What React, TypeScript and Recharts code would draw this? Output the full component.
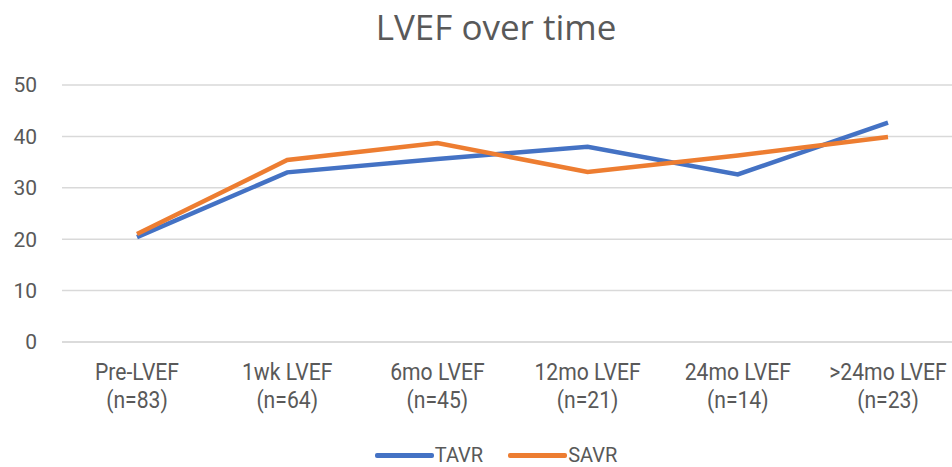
import React from 'react';
import { LineChart, Line, XAxis, YAxis, CartesianGrid } from 'recharts';

const categories = ['Pre-LVEF', '1wk LVEF', '6mo LVEF', '12mo LVEF', '24mo LVEF', '>24mo LVEF'];
const sampleSizes = ['(n=83)', '(n=64)', '(n=45)', '(n=21)', '(n=14)', '(n=23)'];
const tavr = [20.4, 33.0, 35.6, 38.0, 32.6, 42.7];
const savr = [21.0, 35.4, 38.7, 33.1, 36.3, 39.9];
const yTicks = [0, 10, 20, 30, 40, 50];

const data = categories.map((name, i) => ({
  name,
  TAVR: tavr[i],
  SAVR: savr[i],
}));

const FONT = 'Roboto, "Noto Sans", sans-serif';
const TEXT = '#595959';
const BLUE = '#4472C4';
const ORANGE = '#ED7D31';

// two-line category label, squeezed a bit to look like the narrow office font
const CategoryTick = (props: any) => {
  const { x, y, payload, index } = props;
  return (
    <g transform={`translate(${x},${y}) scale(0.92,1)`}>
      <text x={0} y={0} textAnchor="middle" fill={TEXT} fontSize={23} fontFamily={FONT}>
        <tspan x={0} dy={38}>{payload.value}</tspan>
        <tspan x={0} dy={28}>{sampleSizes[index]}</tspan>
      </text>
    </g>
  );
};

const legendItems = [
  { label: 'TAVR', color: BLUE },
  { label: 'SAVR', color: ORANGE },
];

const App: React.FC = () => {
  return (
    <div style={{ position: 'absolute', left: 0, top: 0, width: 952, height: 467, overflow: 'hidden', background: '#fff' }}>
      <div
        style={{
          position: 'absolute',
          top: 9,
          left: 0,
          width: 992,
          textAlign: 'center',
          fontFamily: '"Open Sans", "Noto Sans", sans-serif',
          fontSize: 35,
          lineHeight: '35px',
          color: TEXT,
        }}
      >
        LVEF over time
      </div>
      <LineChart
        width={970}
        height={467}
        data={data}
        margin={{ top: 85, right: 7, left: 0, bottom: 0 }}
        style={{ position: 'absolute', left: 0, top: 0 }}
      >
        <CartesianGrid vertical={false} stroke="#d9d9d9" strokeWidth={1.5} />
        <XAxis
          dataKey="name"
          axisLine={{ stroke: '#d9d9d9', strokeWidth: 1.5 }}
          tickLine={false}
          tickSize={0}
          tickMargin={0}
          interval={0}
          padding={{ left: 75, right: 75 }}
          tick={<CategoryTick />}
          height={125}
        />
        <YAxis
          domain={[0, 50]}
          ticks={yTicks}
          width={62}
          axisLine={false}
          tickLine={false}
          tickMargin={19}
          tick={{ fill: TEXT, fontSize: 21, fontFamily: FONT }}
        />
        <Line type="linear" dataKey="TAVR" stroke={BLUE} strokeWidth={4.5} dot={false} isAnimationActive={false} />
        <Line type="linear" dataKey="SAVR" stroke={ORANGE} strokeWidth={4.5} dot={false} isAnimationActive={false} />
      </LineChart>
      <div
        style={{
          position: 'absolute',
          top: 444,
          left: 0,
          width: 992,
          display: 'flex',
          justifyContent: 'center',
          gap: 25,
          fontFamily: FONT,
          fontSize: 20,
          lineHeight: '22px',
          color: TEXT,
        }}
      >
        {legendItems.map((it) => (
          <div key={it.label} style={{ display: 'flex', alignItems: 'center' }}>
            <span style={{ display: 'inline-block', width: 59, height: 5, background: it.color, borderRadius: 2, marginRight: 1 }} />
            <span>{it.label}</span>
          </div>
        ))}
      </div>
    </div>
  );
};

export default App;
